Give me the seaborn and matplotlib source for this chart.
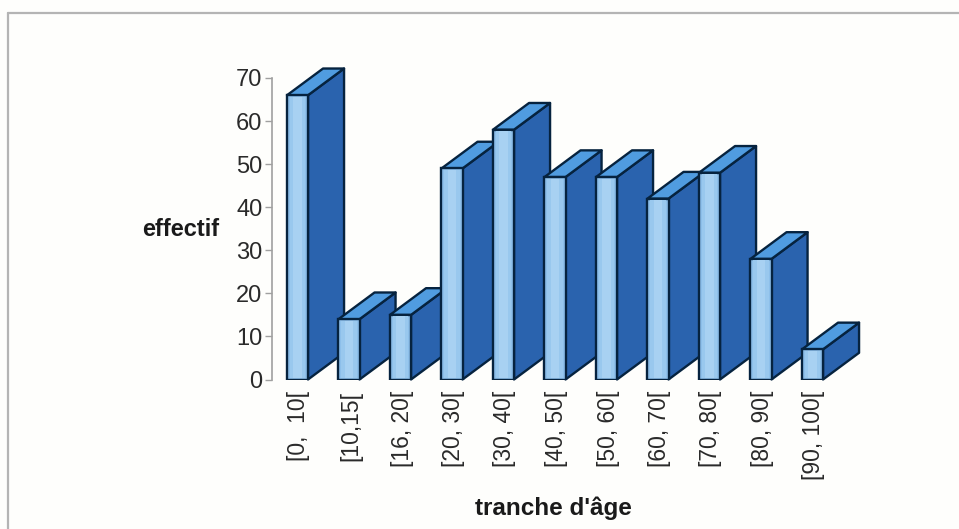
import matplotlib
matplotlib.use("Agg")
import matplotlib.pyplot as plt
import matplotlib.transforms as mtrans
import pandas as pd
import seaborn as sns
from matplotlib.patches import Polygon

tranches = ["[0,  10[", "[10,15[", "[16, 20[", "[20, 30[", "[30, 40[", "[40, 50[",
            "[50, 60[", "[60, 70[", "[70, 80[", "[80, 90[", "[90, 100["]
effectifs = [66, 14, 15, 49, 58, 47, 47, 42, 48, 28, 7]
yticks = [0, 10, 20, 30, 40, 50, 60, 70]

W, H = 959, 529
BAR_W = 0.408
DEPTH_X = 0.70   # bar units
DEPTH_Y = 6.2    # effectif units
EDGE = "#06233f"
LW = 1.7

sns.set_theme(style="white")
plt.rcParams["font.family"] = ["Liberation Sans", "DejaVu Sans"]
plt.rcParams["text.color"] = "#2a2a2a"

fig = plt.figure(figsize=(W / 100, H / 100), dpi=100, facecolor="#fefefc")

# axes placed so that the spine sits at x=272 and 0..70 covers y=379.5..78
ax = fig.add_axes([272 / W, 1 - 379.5 / H, 608 / W, 301.5 / H])
ax.patch.set_alpha(0)

df = pd.DataFrame({"tranche": tranches, "effectif": effectifs})

sns.barplot(data=df, x="tranche", y="effectif", color="#8dbfea", saturation=1,
            width=BAR_W, edgecolor=EDGE, linewidth=LW, ax=ax)
n_bars = len(effectifs)
for i, bar in enumerate(ax.patches[:n_bars]):
    bar.set_zorder(3 + i * 2 + 0.5)

# lighter band down the middle of each front face
for layer, (frac, col) in enumerate([(0.72, "#99c8ee"), (0.42, "#a8d1f2")]):
    start = len(ax.patches)
    sns.barplot(data=df, x="tranche", y="effectif", color=col, saturation=1,
                width=BAR_W * frac, linewidth=0, ax=ax)
    for i, bar in enumerate(ax.patches[start:]):
        bar.set_zorder(3 + i * 2 + 0.6 + layer * 0.1)
        bar.set_y(0.35)
        bar.set_height(bar.get_height() - 0.7)

# side and top faces, built from the values
for i, v in enumerate(effectifs):
    x0, x1 = i - BAR_W / 2, i + BAR_W / 2
    side = Polygon([(x1, 0), (x1 + DEPTH_X, DEPTH_Y), (x1 + DEPTH_X, v + DEPTH_Y), (x1, v)],
                   facecolor="#2a63ae", edgecolor=EDGE, linewidth=LW,
                   joinstyle="round", clip_on=False, zorder=3 + i * 2)
    top = Polygon([(x0, v), (x1, v), (x1 + DEPTH_X, v + DEPTH_Y), (x0 + DEPTH_X, v + DEPTH_Y)],
                  facecolor="#509ce0", edgecolor=EDGE, linewidth=LW,
                  joinstyle="round", clip_on=False, zorder=3 + i * 2 + 0.1)
    ax.add_patch(side)
    ax.add_patch(top)

ax.set_xlim((272 - 297.5) / 51.5, (880 - 297.5) / 51.5)
ax.set_ylim(0, 70)
ax.set_yticks(yticks)

sns.despine(ax=ax, top=True, right=True, bottom=True)
ax.spines["left"].set_color("#a0a0a0")
ax.spines["left"].set_linewidth(1.2)

ax.tick_params(axis="y", length=5, width=1, color="#a0a0a0", pad=2, labelsize=17,
               labelcolor="#2a2a2a", left=True)
ax.tick_params(axis="x", length=0, pad=8, labelsize=16.5, labelcolor="#2a2a2a", rotation=90)

# rotated labels sit a little to the right of the default spot
shift = mtrans.ScaledTranslation(1.5 / 100, 0, fig.dpi_scale_trans)
for lab in ax.get_xticklabels():
    lab.set_transform(lab.get_transform() + shift)

ax.set_xlabel("tranche d'âge", fontsize=17.5, fontweight="bold", color="#1a1a1a", va="center")
ax.set_ylabel("effectif", fontsize=17, fontweight="bold", color="#1a1a1a", rotation=0,
              ha="right", va="center")
ax.xaxis.set_label_coords((553 - 272) / 608, (379.5 - 508) / 301.5)
ax.yaxis.set_label_coords((219 - 272) / 608, (379.5 - 230) / 301.5)

# scanned page frame
frame_color = "#b4b4b4"
fig.add_artist(plt.Line2D([8 / W, 8 / W], [0, 1 - 13 / H], color=frame_color, linewidth=1.6))
fig.add_artist(plt.Line2D([8 / W, 1], [1 - 13 / H, 1 - 13 / H], color=frame_color, linewidth=1.6))

fig.savefig("out.png", dpi=100, facecolor=fig.get_facecolor())
